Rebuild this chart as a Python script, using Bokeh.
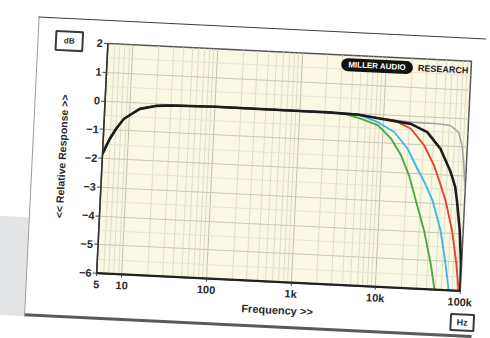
from bokeh.plotting import figure
from bokeh.models import (Range1d, FixedTicker, Label, InlineStyleSheet, Title)
from bokeh.embed import file_html
from bokeh.resources import INLINE

# ---- data ----
# shared low/mid-frequency part of all five responses
low_freq = [5, 5.5, 6, 7, 8.5, 10, 13, 20, 30, 100, 1000, 2200]
low_db = [-1.85, -1.55, -1.3, -0.95, -0.6, -0.45, -0.22, -0.09, -0.05, -0.02, -0.02, -0.02]

gray_freq = [5000, 8500, 20900, 43000, 61400, 77600, 86500, 92500, 96000, 100000]
gray_db = [-0.05, -0.14, -0.22, -0.23, -0.27, -0.49, -0.94, -1.52, -2.0, -2.6]

green_freq = [3500, 5400, 8600, 12500, 16700, 21500, 26500, 34500, 43200, 49600]
green_db = [-0.05, -0.19, -0.39, -0.83, -1.39, -2.1, -2.93, -3.96, -5.1, -6.0]

cyan_freq = [3500, 5000, 8500, 13500, 19800, 26500, 33000, 41700, 54000, 64600, 73000]
cyan_db = [-0.03, -0.05, -0.28, -0.59, -1.15, -1.83, -2.3, -2.9, -3.93, -5.08, -6.0]

red_freq = [5000, 8500, 13300, 21100, 31000, 41600, 49500, 59400, 73800, 86700, 95600]
red_db = [-0.05, -0.13, -0.19, -0.45, -1.01, -1.69, -2.25, -2.88, -3.91, -5.06, -6.0]

black_freq = [5000, 8500, 20900, 33000, 48500, 65000, 70000, 76000, 81000, 91000,
              98500, 100000]
black_db = [-0.05, -0.14, -0.28, -0.54, -1.1, -1.85, -2.1, -2.4, -2.86, -3.9,
            -5.05, -6.0]

x_ticks = [5, 10, 100, 1000, 10000, 100000]
x_tick_labels = ["5", "10", "100", "1k", "10k", "100k"]
y_ticks = [-6, -5, -4, -3, -2, -1, 0, 1, 2]

series = [
    ("gray", gray_freq, gray_db, "#a3a3a3", 1.6),
    ("green", green_freq, green_db, "#4aa942", 1.9),
    ("cyan", cyan_freq, cyan_db, "#41b7e4", 1.9),
    ("red", red_freq, red_db, "#e4422b", 1.9),
    ("black", black_freq, black_db, "#1c1c1c", 2.6),
]

FONT = "Liberation Sans"

p = figure(width=480, height=338, x_axis_type="log",
           x_range=Range1d(5, 100000), y_range=Range1d(-6, 2),
           output_backend="svg", toolbar_location=None,
           min_border_left=102, min_border_right=29,
           min_border_top=61, min_border_bottom=70)

p.border_fill_color = None
p.background_fill_color = "#faf7e3"
p.outline_line_color = "#555555"
p.outline_line_width = 1.5

minor_x = [m * d for d in [1, 10, 100, 1000, 10000] for m in range(2, 10) if m * d >= 5]
xt = FixedTicker(ticks=x_ticks, minor_ticks=minor_x)
yt = FixedTicker(ticks=y_ticks, minor_ticks=[v + 0.5 for v in y_ticks[:-1]])
p.xaxis.ticker = xt
p.yaxis.ticker = yt
p.xgrid.ticker = xt
p.ygrid.ticker = yt
p.xaxis.major_label_overrides = {t: l for t, l in zip(x_ticks, x_tick_labels)}

p.xgrid.grid_line_color = "#c2c0ae"
p.xgrid.minor_grid_line_color = "#dedcca"
p.ygrid.grid_line_color = "#c9c7b5"
p.ygrid.minor_grid_line_color = "#e6e4d2"

for ax in (p.xaxis[0], p.yaxis[0]):
    ax.major_label_text_font = FONT
    ax.major_label_text_font_style = "bold"
    ax.major_label_text_font_size = "11px"
    ax.major_label_text_color = "#2a2a2a"
    ax.axis_label_text_font = FONT
    ax.axis_label_text_font_style = "bold"
    ax.axis_label_text_color = "#2a2a2a"
    ax.minor_tick_line_color = None
    ax.major_tick_in = 0
    ax.major_tick_line_color = "#444444"

p.xaxis.axis_line_width = 2.2
p.xaxis.axis_line_color = "#222222"
p.yaxis.axis_line_width = 1.5
p.yaxis.axis_line_color = "#333333"
p.xaxis.major_tick_out = 3
p.yaxis.major_tick_out = 4
p.xaxis.major_label_standoff = 1
p.yaxis.major_label_standoff = 1
p.xaxis.axis_label = "Frequency >>"
p.yaxis.axis_label = "<< Relative Response >>"
p.xaxis.axis_label_text_font_size = "11px"
p.yaxis.axis_label_text_font_size = "10.5px"
p.xaxis.axis_label_standoff = 2
p.yaxis.axis_label_standoff = 14

for name, fx, fy, col, w in series:
    p.line(low_freq + fx, low_db + fy, line_color=col, line_width=w)

# unit boxes (titles live in side panels, so they are not clipped)
p.add_layout(Title(text="dB", align="left", offset=-52, standoff=-18,
                   text_font=FONT, text_font_style="bold", text_font_size="8px",
                   text_color="#333333", background_fill_color="white",
                   border_line_color="#3a3a3a", border_line_width=2,
                   padding=dict(left=8, right=8, top=5, bottom=5)), "above")
p.add_layout(Title(text="Hz", align="right", offset=-15, standoff=-27,
                   vertical_align="top",
                   text_font=FONT, text_font_style="bold", text_font_size="9px",
                   text_color="#333333", background_fill_color="white",
                   border_line_color="#3a3a3a", border_line_width=2,
                   padding=dict(left=6, right=6, top=3, bottom=3)), "below")

# logo
p.add_layout(Label(x=372, y=70.5, x_units="canvas", y_units="canvas", text="MILLER AUDIO",
                   text_font=FONT, text_font_style="bold", text_font_size="8px",
                   text_color="white", text_align="center", text_baseline="middle",
                   background_fill_color="#111111", border_radius=7,
                   padding=dict(left=7, right=7, top=2, bottom=2)))
p.add_layout(Label(x=438, y=70.5, x_units="canvas", y_units="canvas", text="RESEARCH",
                   text_font=FONT, text_font_style="bold", text_font_size="9px",
                   text_color="#222222", text_align="center", text_baseline="middle"))

css = """
:host {
  transform: translateY(-11.5px) rotate(2.8deg);
  transform-origin: 50% 50%;
  background-color: #ffffff;
  background-image:
    linear-gradient(#3c3c3c, #3c3c3c),
    linear-gradient(#9a9a9a, #9a9a9a),
    linear-gradient(#5a5a5a, #5a5a5a),
    linear-gradient(#e3e4e6, #e3e4e6);
  background-size: 100% 1px, 1px 100%, 100% 3px, 32px 100%;
  background-position: 32px 38px, 32px 38px, 32px 335px, 0px 239px;
  background-repeat: no-repeat;
}
"""
p.stylesheets = [InlineStyleSheet(css=css)]

open("out.html", "w").write(file_html(p, INLINE))
